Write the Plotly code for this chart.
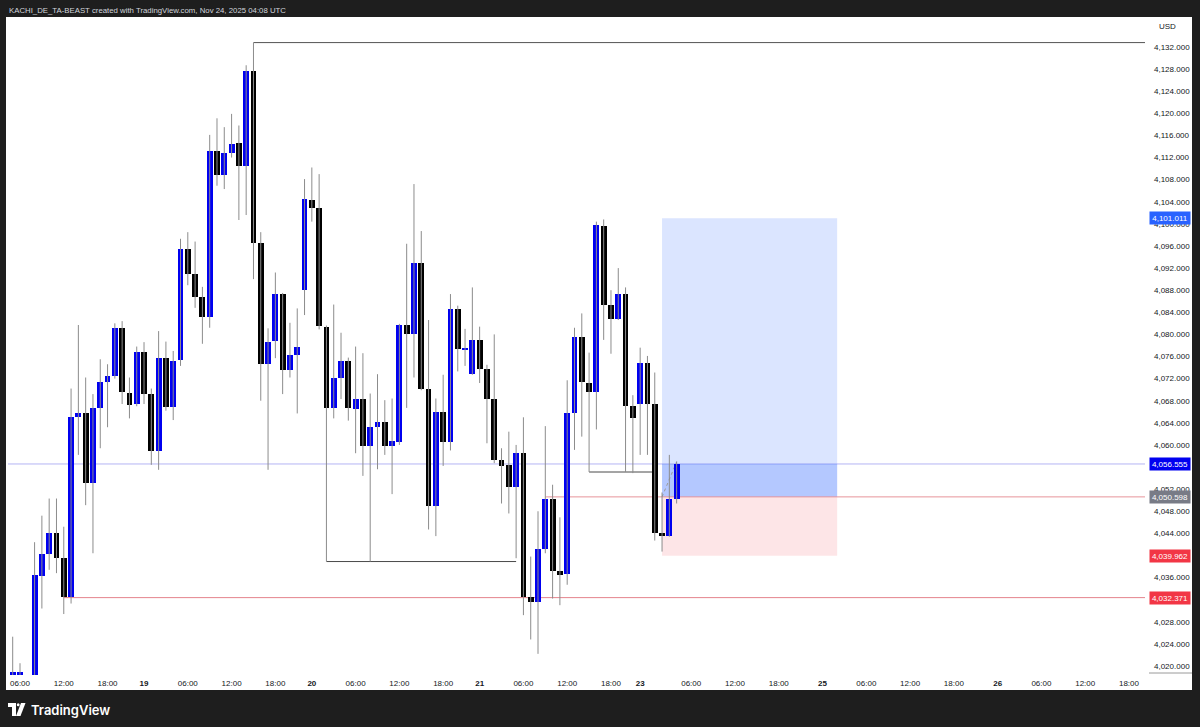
import datetime as dt
import plotly.graph_objects as go

# ---------------- data (XAUUSD, 1h candles) ----------------
opens = [4016.0, 4016.0, 4016.0, 4012.0, 4036.3, 4040.2, 4044.1, 4039.5, 4032.5, 4065.1,
         4065.7, 4053.1, 4066.7, 4071.4, 4072.4, 4081.1, 4069.4, 4067.4, 4076.9, 4069.2,
         4058.9, 4075.7, 4066.9, 4075.3, 4095.5, 4090.9, 4086.7, 4083.2, 4113.2, 4108.8,
         4112.9, 4114.6, 4110.5, 4127.7, 4096.6, 4074.6, 4078.8, 4087.3, 4073.5, 4076.2,
         4088.0, 4104.4, 4102.8, 4081.4, 4066.7, 4072.2, 4075.2, 4066.5, 4068.3, 4059.8,
         4063.2, 4064.1, 4059.8, 4060.6, 4081.7, 4080.1, 4093.0, 4070.1, 4049.0, 4066.0,
         4060.6, 4084.6, 4077.3, 4072.8, 4078.9, 4073.7, 4068.4, 4057.2, 4056.3, 4052.3,
         4058.5, 4032.5, 4031.6, 4041.1, 4050.3, 4037.1, 4036.6, 4065.8, 4079.6, 4071.2,
         4069.5, 4099.6, 4085.4, 4082.7, 4087.3, 4067.1, 4067.4, 4074.9, 4067.4, 4044.0,
         4043.5, 4050.2]
highs = [4025.3, 4020.5, 4018.0, 4042.4, 4047.2, 4050.3, 4050.3, 4045.2, 4070.2, 4081.7,
         4072.2, 4069.2, 4075.5, 4074.6, 4082.0, 4082.4, 4072.2, 4077.8, 4078.6, 4070.2,
         4080.6, 4078.7, 4077.0, 4097.3, 4098.5, 4096.8, 4088.6, 4116.1, 4119.1, 4117.5,
         4119.9, 4117.8, 4128.7, 4132.8, 4098.5, 4081.1, 4091.2, 4087.5, 4082.1, 4084.7,
         4108.1, 4110.2, 4109.0, 4081.6, 4085.4, 4080.3, 4075.8, 4077.8, 4076.6, 4069.3,
         4072.8, 4068.1, 4068.4, 4081.9, 4096.4, 4107.2, 4098.7, 4082.6, 4068.4, 4072.7,
         4087.3, 4085.2, 4081.0, 4088.5, 4081.4, 4074.5, 4080.0, 4059.4, 4062.4, 4060.0,
         4065.0, 4039.8, 4048.0, 4063.4, 4052.8, 4046.9, 4071.7, 4081.2, 4083.8, 4076.7,
         4100.4, 4100.8, 4088.0, 4092.0, 4088.5, 4069.0, 4077.6, 4076.1, 4073.1, 4051.4,
         4058.2, 4057.0]
lows = [4015.0, 4015.0, 4010.0, 4010.0, 4030.4, 4037.4, 4036.8, 4029.4, 4031.3, 4058.2,
        4049.1, 4040.4, 4059.4, 4063.2, 4072.0, 4067.4, 4064.8, 4067.0, 4067.4, 4056.4,
        4055.5, 4066.2, 4064.5, 4074.3, 4088.9, 4084.8, 4078.3, 4081.2, 4106.9, 4106.3,
        4112.0, 4100.7, 4101.6, 4090.0, 4068.0, 4055.5, 4075.7, 4069.2, 4072.2, 4065.7,
        4083.5, 4100.4, 4080.9, 4038.9, 4064.8, 4068.3, 4064.4, 4058.5, 4054.4, 4038.9,
        4055.6, 4058.2, 4051.1, 4060.0, 4066.7, 4072.2, 4069.9, 4044.7, 4043.5, 4056.2,
        4059.0, 4073.3, 4074.3, 4072.7, 4071.2, 4060.3, 4056.7, 4049.4, 4047.6, 4039.5,
        4029.2, 4024.8, 4022.2, 4040.4, 4032.2, 4031.0, 4034.7, 4059.1, 4061.5, 4055.1,
        4062.8, 4079.0, 4076.5, 4082.6, 4055.1, 4054.9, 4058.2, 4058.2, 4042.7, 4040.7,
        4043.4, 4049.4]
closes = [4018.9, 4018.9, 4012.0, 4036.5, 4040.2, 4044.0, 4039.5, 4032.4, 4065.1, 4065.7,
          4053.1, 4066.7, 4071.4, 4072.4, 4081.2, 4069.5, 4067.2, 4076.9, 4069.2, 4058.9,
          4075.7, 4066.9, 4075.1, 4095.5, 4090.9, 4086.8, 4083.2, 4113.2, 4108.8, 4112.9,
          4114.4, 4110.5, 4127.7, 4096.6, 4074.6, 4078.6, 4087.3, 4073.6, 4076.2, 4077.7,
          4104.5, 4102.9, 4081.5, 4066.7, 4072.2, 4075.2, 4066.6, 4068.3, 4059.8, 4063.3,
          4064.1, 4059.8, 4060.7, 4081.7, 4080.1, 4093.0, 4070.1, 4049.0, 4066.0, 4060.6,
          4084.6, 4077.3, 4077.6, 4078.9, 4073.7, 4068.4, 4057.2, 4056.2, 4052.3, 4058.5,
          4032.5, 4031.6, 4041.1, 4050.3, 4037.1, 4036.5, 4065.8, 4079.6, 4071.3, 4069.5,
          4099.8, 4085.4, 4082.7, 4087.3, 4067.0, 4064.8, 4074.9, 4067.4, 4044.0, 4043.5,
          4050.2, 4056.555]

first_bar = "2025-11-18 05:00"
n_future = 70

# x-axis tick labels
tick_times = ["2025-11-18 06:00", "2025-11-18 12:00", "2025-11-18 18:00", "2025-11-19 00:00",
              "2025-11-19 06:00", "2025-11-19 12:00", "2025-11-19 18:00", "2025-11-20 00:00",
              "2025-11-20 06:00", "2025-11-20 12:00", "2025-11-20 18:00", "2025-11-21 00:00",
              "2025-11-21 06:00", "2025-11-21 12:00", "2025-11-21 18:00", "2025-11-23 23:00",
              "2025-11-24 06:00", "2025-11-24 12:00", "2025-11-24 18:00", "2025-11-25 00:00",
              "2025-11-25 06:00", "2025-11-25 12:00", "2025-11-25 18:00", "2025-11-26 00:00",
              "2025-11-26 06:00", "2025-11-26 12:00", "2025-11-26 18:00"]
tick_texts = ["06:00", "12:00", "18:00", "19", "06:00", "12:00", "18:00", "20",
              "06:00", "12:00", "18:00", "21", "06:00", "12:00", "18:00", "23",
              "06:00", "12:00", "18:00", "25", "06:00", "12:00", "18:00", "26",
              "06:00", "12:00", "18:00"]

# price-scale ticks (levels fully hidden behind price labels are not shown)
price_ticks = [v for v in range(4020, 4133, 4) if v not in (4032, 4040, 4056)]

# drawings / position tool
current_price = 4056.555
entry_price = 4050.598
target_price = 4101.011
stop_price = 4039.962
low_ray_price = 4032.371
high_ray_price = 4132.8
high_ray_from = "2025-11-19 15:00"
entry_ray_from = "2025-11-21 09:00"
low_ray_from = "2025-11-18 12:00"
eq_low1 = (4038.9, "2025-11-20 02:00", "2025-11-21 05:00")
eq_low2 = (4055.1, "2025-11-21 15:00", "2025-11-24 01:00")
pos_start = "2025-11-24 02:00"
pos_end = "2025-11-25 02:00"

# ---------------- build bar index (trading hours) ----------------
hour = dt.timedelta(hours=1)
t = dt.datetime.strptime(first_bar, "%Y-%m-%d %H:%M")
times = []
while len(times) < len(opens):
    wd = t.weekday()
    closed = (t.hour == 22) or wd == 5 or (wd == 4 and t.hour >= 22) or (wd == 6 and t.hour < 23)
    if not closed:
        times.append(t)
    t += hour
while len(times) < len(opens) + n_future:
    times.append(t)
    t += hour
idx_of = {tt.strftime("%Y-%m-%d %H:%M"): i for i, tt in enumerate(times)}

def X(s):
    return idx_of[s]

n = len(opens)
xs = list(range(n))

# ---------------- figure ----------------
W, H = 1200, 727
ML, MR, MT, MB = 8, 55, 18, 52
PW, PH = W - ML - MR, H - MT - MB

def px(xp):
    return (xp - ML) / PW

def py(yp):
    return (H - MB - yp) / PH

BLUE = "#0000f0"
fig = go.Figure()

# wicks
wx, wy = [], []
for i in range(n):
    wx += [i, i, None]
    wy += [lows[i], highs[i], None]
fig.add_trace(go.Scatter(x=wx, y=wy, mode="lines", line=dict(color="#8c8c8c", width=1),
                         hoverinfo="skip", showlegend=False))

# bodies
bases = [min(o, c) for o, c in zip(opens, closes)]
heights = [max(abs(c - o), 0.3) for o, c in zip(opens, closes)]
colors = [BLUE if c >= o else "#000000" for o, c in zip(opens, closes)]
fig.add_trace(go.Bar(x=xs, y=heights, base=bases, width=0.8,
                     marker=dict(color=colors, line=dict(width=0)),
                     hoverinfo="skip", showlegend=False))

x_left = -4.7 / 7.296
x_right = x_left + PW / 7.296

shapes = []
# white chart canvas
shapes.append(dict(type="rect", xref="paper", yref="paper", x0=px(6), x1=px(1192), y0=py(690), y1=py(17),
                   fillcolor="white", line=dict(width=0), layer="below"))
# position tool
shapes.append(dict(type="rect", xref="x", yref="y", x0=X(pos_start), x1=X(pos_end), y0=entry_price, y1=target_price,
                   fillcolor="rgba(41,98,255,0.17)", line=dict(width=0), layer="below"))
shapes.append(dict(type="rect", xref="x", yref="y", x0=X(pos_start), x1=X(pos_end), y0=entry_price, y1=current_price,
                   fillcolor="rgba(41,98,255,0.22)", line=dict(width=0), layer="below"))
shapes.append(dict(type="rect", xref="x", yref="y", x0=X(pos_start), x1=X(pos_end), y0=stop_price, y1=entry_price,
                   fillcolor="rgba(242,54,69,0.13)", line=dict(width=0), layer="below"))
# lines
shapes.append(dict(type="line", xref="paper", yref="y", x0=0, x1=1, y0=current_price, y1=current_price,
                   line=dict(color="#b4b4f4", width=1), layer="below"))
shapes.append(dict(type="line", xref="x", yref="y", x0=X(entry_ray_from), x1=x_right, y0=entry_price, y1=entry_price,
                   line=dict(color="#e7949b", width=1), layer="below"))
shapes.append(dict(type="line", xref="x", yref="y", x0=X(low_ray_from), x1=x_right, y0=low_ray_price, y1=low_ray_price,
                   line=dict(color="#e4848d", width=1), layer="below"))
shapes.append(dict(type="line", xref="x", yref="y", x0=X(high_ray_from), x1=x_right, y0=high_ray_price, y1=high_ray_price,
                   line=dict(color="#555555", width=1), layer="below"))
for lvl, a, b in (eq_low1, eq_low2):
    shapes.append(dict(type="line", xref="x", yref="y", x0=X(a), x1=X(b), y0=lvl, y1=lvl,
                       line=dict(color="#4a4a4a", width=1), layer="below"))
shapes.append(dict(type="line", xref="x", yref="y", x0=X(pos_start), x1=n - 1, y0=entry_price, y1=current_price + 0.4,
                   line=dict(color="#9a9a9a", width=1, dash="dot"), layer="below"))
# price-scale bottom border
shapes.append(dict(type="line", xref="paper", yref="paper", x0=px(1149), x1=px(1192), y0=py(673), y1=py(673),
                   line=dict(color="#9a9a9a", width=1), layer="above"))
# TradingView logo glyph
shapes.append(dict(type="path", xref="paper", yref="paper",
                   path=f"M {px(8)},{py(703)} L {px(16)},{py(703)} L {px(16)},{py(716)} L {px(12)},{py(716)} "
                        f"L {px(12)},{py(707)} L {px(8)},{py(707)} Z",
                   fillcolor="white", line=dict(width=0), layer="above"))
shapes.append(dict(type="circle", xref="paper", yref="paper", x0=px(16.8), x1=px(19.6), y0=py(706.3), y1=py(703.2),
                   fillcolor="white", line=dict(width=0), layer="above"))
shapes.append(dict(type="path", xref="paper", yref="paper",
                   path=f"M {px(21)},{py(703)} L {px(25.5)},{py(703)} L {px(20.5)},{py(716)} L {px(16)},{py(716)} Z",
                   fillcolor="white", line=dict(width=0), layer="above"))

annotations = []
annotations.append(dict(xref="paper", yref="paper", x=px(7), y=py(10), xanchor="left", yanchor="middle",
                        text="KACHI_DE_TA-BEAST created with TradingView.com, Nov 24, 2025 04:08 UTC",
                        showarrow=False, font=dict(size=7.8, color="#d1d4dc", family="Liberation Sans")))
annotations.append(dict(xref="paper", yref="paper", x=px(1157), y=py(26), xanchor="left", yanchor="middle",
                        text="USD", showarrow=False, font=dict(size=8, color="#131722", family="Liberation Sans")))
annotations.append(dict(xref="paper", yref="paper", x=px(29), y=py(710), xanchor="left", yanchor="middle",
                        text="TradingView", showarrow=False,
                        font=dict(size=13, color="#ffffff", family="Inter", weight=600)))
for val, bg in ((target_price, "#2962ff"), (current_price, "#0000f0"), (entry_price, "#787b86"),
                (stop_price, "#f23645"), (low_ray_price, "#f23645")):
    annotations.append(dict(xref="paper", yref="y", x=px(1149), y=val, xanchor="left", yanchor="middle",
                            text=f"{val:,.3f}", showarrow=False, bgcolor=bg, width=38, height=10,
                            borderpad=1, font=dict(size=8, color="white", family="Liberation Sans")))

ticktext = [f"<b>{s}</b>" if ":" not in s else s for s in tick_texts]
fig.update_layout(
    width=W, height=H,
    margin=dict(l=ML, r=MR, t=MT, b=MB, pad=0),
    paper_bgcolor="#1e1e1e", plot_bgcolor="white",
    showlegend=False, bargap=0,
    shapes=shapes, annotations=annotations,
    xaxis=dict(range=[x_left, x_right], tickvals=[X(s) for s in tick_times], ticktext=ticktext,
               showgrid=False, zeroline=False, showline=False, ticks="", ticklabelstandoff=2,
               tickfont=dict(size=8, color="#131722", family="Liberation Sans"), fixedrange=True),
    yaxis=dict(side="right", range=[4018.37, 4137.25], tickvals=price_ticks, tickformat=",.3f",
               showgrid=False, zeroline=False, showline=False, ticks="", ticklabelstandoff=8,
               tickfont=dict(size=8, color="#131722", family="Liberation Sans"), fixedrange=True),
)

fig.write_html("out.html", config={"displayModeBar": False},
               post_script="document.body.style.margin='0';document.body.style.background='#1e1e1e';")
